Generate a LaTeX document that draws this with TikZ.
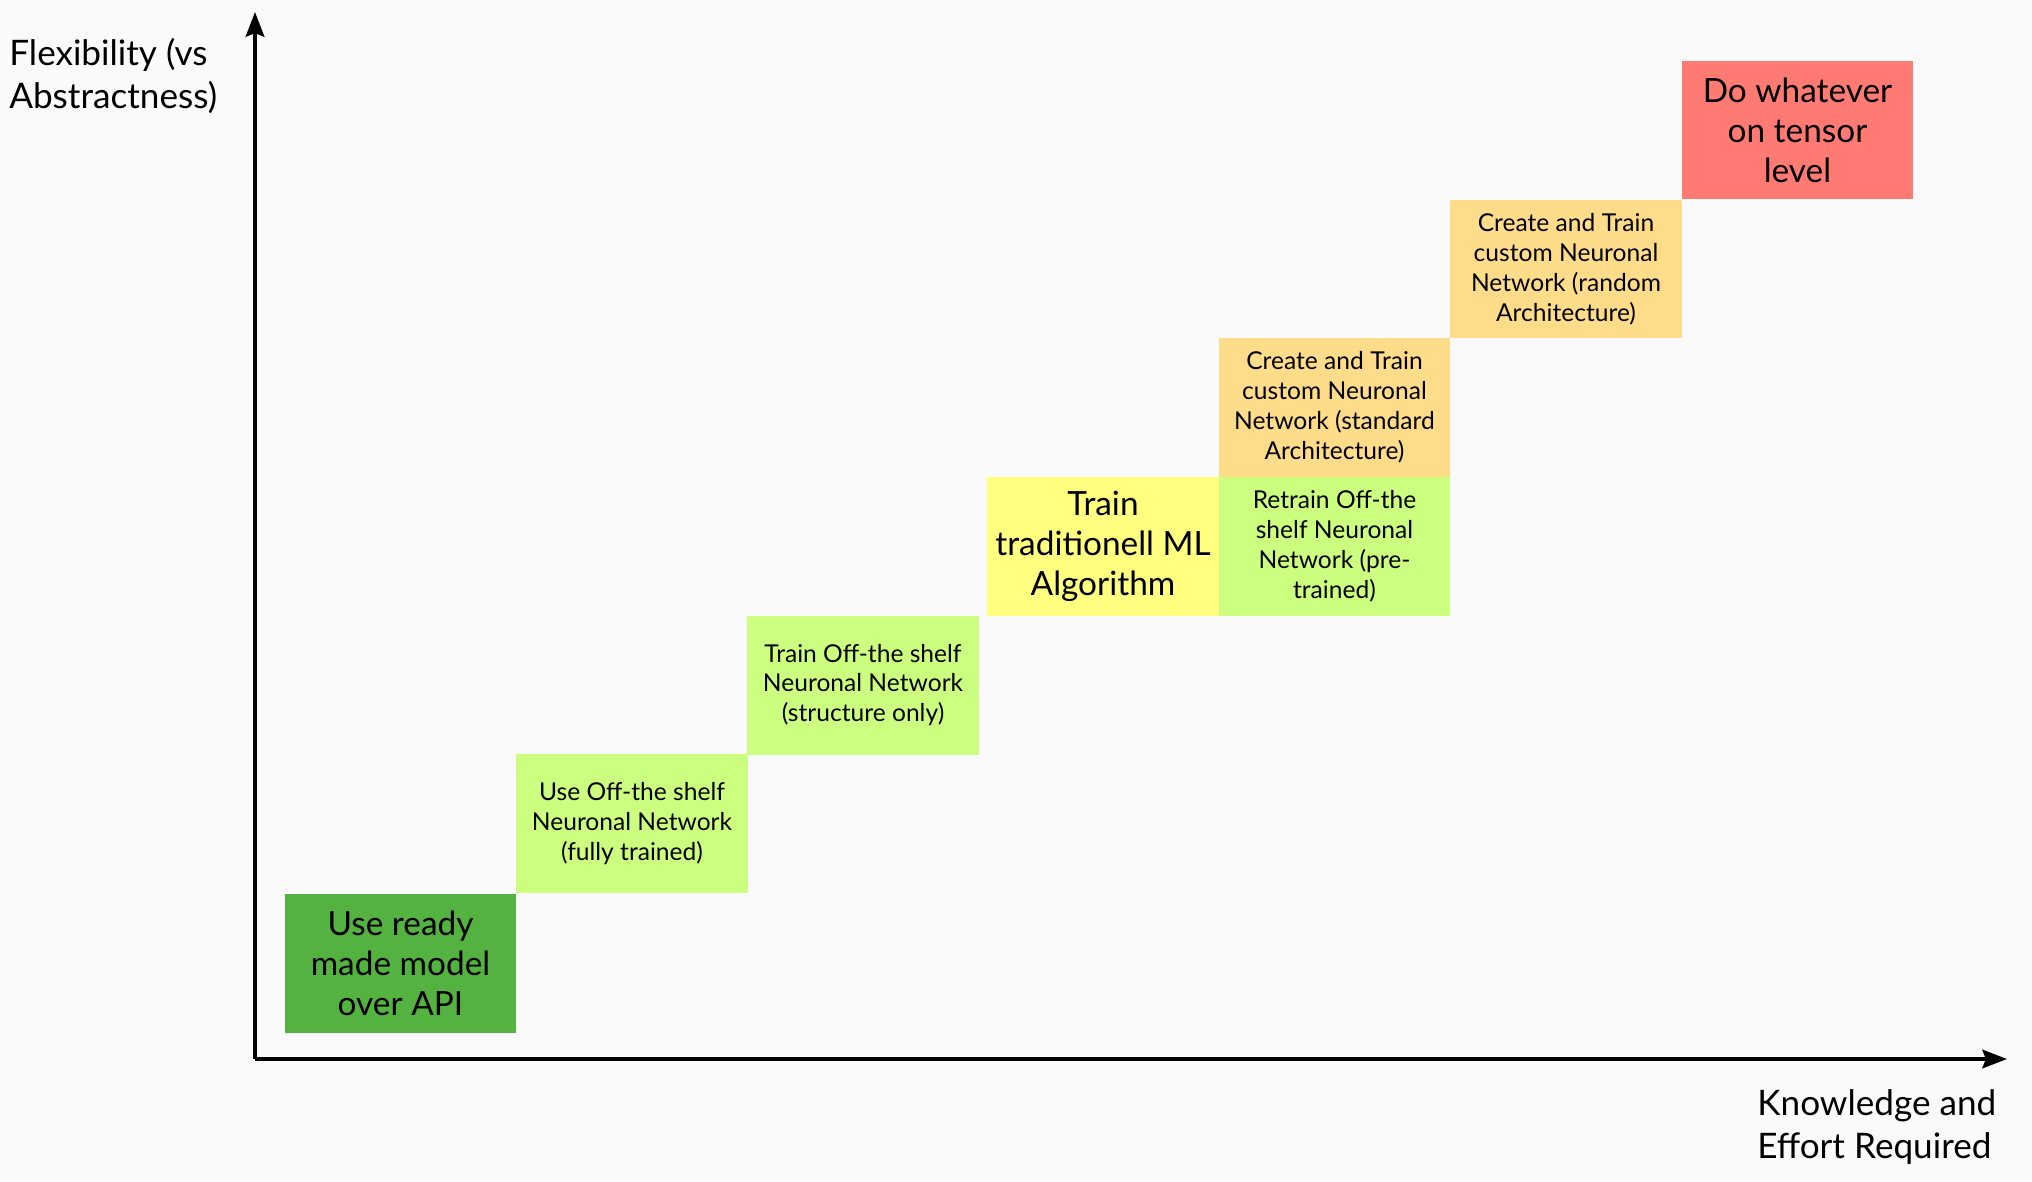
\documentclass[tikz,border=0pt]{standalone}
\usepackage{fontspec}
\setmainfont{Lato}
\usetikzlibrary{arrows.meta}
\definecolor{apigreen}{RGB}{84,178,64}
\definecolor{offgreen}{RGB}{204,255,128}
\definecolor{mlyellow}{RGB}{255,255,128}
\definecolor{nnorange}{RGB}{255,220,138}
\definecolor{tensorred}{RGB}{255,122,114}
\definecolor{paper}{RGB}{250,250,250}
\begin{document}
\begin{tikzpicture}[x=0.02cm, y=-0.02cm,
	stepbox/.style={inner sep=0pt, minimum width=4.63cm, minimum height=2.78cm, align=center, text=black},
	bigtext/.style={font=\fontsize{19}{22.7}\selectfont},
	smalltext/.style={font=\fontsize{14}{17}\selectfont},
	axislabel/.style={inner sep=0pt, align=left, anchor=west, font=\fontsize{20}{24.3}\selectfont},
	axis/.style={line width=2.2pt, -{Stealth[length=14pt, width=10.5pt, inset=2pt]}}]
			%background
			\fill[paper] (0,0) rectangle (2032,1181);
			
			%axes
			\coordinate (origin) at (255,1059);
			\coordinate (ytip) at (255,12);
			\coordinate (xtip) at (2007,1059);
			\draw[axis] (origin) -- (ytip);
			\draw[axis] (origin) -- (xtip);
			\node (ylabel) at (9,76) [axislabel]{Flexibility (vs\\Abstractness)};
			\node (xlabel) at (1757,1127) [axislabel]{Knowledge and\\Effort Required};
			
			%steps
			\node (api) at (400.5,963.5) [stepbox, bigtext, fill=apigreen]{Use ready\\made model\\over API};
			\node (usenn) at (632,823.5) [stepbox, smalltext, fill=offgreen]{Use Off-the shelf\\Neuronal Network\\(fully trained)};
			\node (trainnn) at (863,685) [stepbox, smalltext, fill=offgreen]{Train Off-the shelf\\Neuronal Network\\(structure only)};
			\node (ml) at (1103,546.5) [stepbox, bigtext, fill=mlyellow]{Train\\traditionell ML\\Algorithm};
			\node (retrain) at (1334.5,546.5) [stepbox, smalltext, fill=offgreen]{Retrain Off-the\\shelf Neuronal\\Network (pre-\\trained)};
			\node (standard) at (1334.5,407.5) [stepbox, smalltext, fill=nnorange]{Create and Train\\custom Neuronal\\Network (standard\\Architecture)};
			\node (random) at (1566,269) [stepbox, smalltext, fill=nnorange]{Create and Train\\custom Neuronal\\Network (random\\Architecture)};
			\node (tensor) at (1797.5,130) [stepbox, bigtext, fill=tensorred]{Do whatever\\on tensor\\level};
		\end{tikzpicture}
\end{document}
